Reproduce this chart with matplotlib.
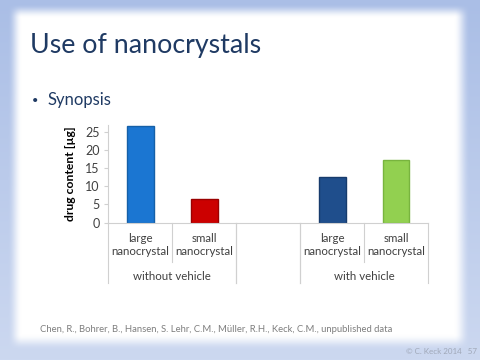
import numpy as np
import matplotlib
matplotlib.use("Agg")
import matplotlib.pyplot as plt
from matplotlib.transforms import blended_transform_factory

plt.rcParams['font.family'] = ['Lato', 'DejaVu Sans']

# data
categories = ["large\nnanocrystal", "small\nnanocrystal", "", "large\nnanocrystal", "small\nnanocrystal"]
values = [26.6, 6.4, np.nan, 12.5, 17.3]
colors = ['#1b76d2', '#cc0000', '#ffffff', '#1f4e8c', '#92d050']
edges = ['#1560a8', '#9a0000', '#ffffff', '#173b6c', '#78b43e']
groups = ["without vehicle", "", "with vehicle"]
group_spans = [(-0.5, 1.5), (1.5, 2.5), (2.5, 4.5)]
yticks = [0, 5, 10, 15, 20, 25]

fig = plt.figure(figsize=(4.8, 3.6), dpi=100)

# slide background: blue frame with soft white panel
W, H = 480, 360
xx = np.arange(W)[None, :] + 0.5
yy = np.arange(H)[:, None] + 0.5
def soft(d, s):
    t = np.clip(d / s, 0, 1)
    return t * t * (3 - 2 * t)
mx = soft(xx - 8, 14) * soft(470 - xx, 16)
my = soft(yy - 4, 14) * soft(350 - yy, 16)
m = (mx * my)[..., None]
blue = np.array([170, 190, 230]) / 255.0
grad = np.linspace(0, 1, H)[:, None, None] * 0.4
bluebg = blue * (1 - grad) + grad
img = bluebg * (1 - m) + m
bg = fig.add_axes([0, 0, 1, 1], zorder=-10)
bg.imshow(img, aspect='auto', extent=[0, 1, 0, 1])
bg.axis('off')

navy = '#1f3a63'
fig.text(30 / W, 1 - 46 / H, "Use of nanocrystals", fontsize=19.3, color=navy, va='center')
fig.text(32 / W, 1 - 100 / H, "•", fontsize=8, color=navy, va='center')
fig.text(47 / W, 1 - 100 / H, "Synopsis", fontsize=12, color=navy, va='center')

ax = fig.add_axes([108.3 / W, 1 - 222.5 / H, (428 - 108.3) / W, (222.5 - 125) / H])
x = np.arange(len(categories))
ax.bar(x, values, width=0.42, color=colors, edgecolor=edges, linewidth=1.0)
ax.set_xlim(-0.5, 4.5)
ax.set_ylim(0, 26.9)
ax.set_yticks(yticks)
ax.set_xticks([])
for s in ['top', 'right']:
    ax.spines[s].set_visible(False)
for s in ['left', 'bottom']:
    ax.spines[s].set_color('#d0d0d0')
    ax.spines[s].set_linewidth(0.8)
ax.tick_params(axis='y', length=3, color='#d0d0d0', labelsize=9, labelcolor='#404040', pad=3)
ax.set_ylabel("drug content [µg]", fontsize=8.7, fontweight='bold', color='#000000', labelpad=7)
ax.patch.set_alpha(0)

tr = blended_transform_factory(ax.transData, fig.transFigure)
line_kw = dict(color='#d0d0d0', lw=0.8, transform=tr, clip_on=False)
# separators between categories and groups
for i, (a, b) in enumerate(group_spans):
    ax.plot([a, a], [1 - 222.5 / H, 1 - 283 / H], **line_kw)
    ax.plot([b, b], [1 - 222.5 / H, 1 - 283 / H], **line_kw)
    if groups[i]:
        mid = (a + b) / 2
        ax.plot([mid, mid], [1 - 222.5 / H, 1 - 262 / H], **line_kw)
        ax.text(mid, 1 - 276 / H, groups[i], transform=tr, ha='center', va='center',
                fontsize=8.3, color='#404040')
for xi, lab in zip(x, categories):
    ax.text(xi, 1 - 245 / H, lab, transform=tr, ha='center', va='center',
            fontsize=8.3, color='#404040', linespacing=1.3)

fig.text(40 / W, 1 - 329 / H, "Chen, R., Bohrer, B., Hansen, S. Lehr, C.M., Müller, R.H., Keck, C.M., unpublished data",
         fontsize=6.8, color='#7f7f7f', va='center')
fig.text(477 / W, 1 - 352 / H, "© C. Keck 2014   57", fontsize=5.8, color='#a0a8b8', va='center', ha='right')

fig.savefig("out.png", dpi=100)
